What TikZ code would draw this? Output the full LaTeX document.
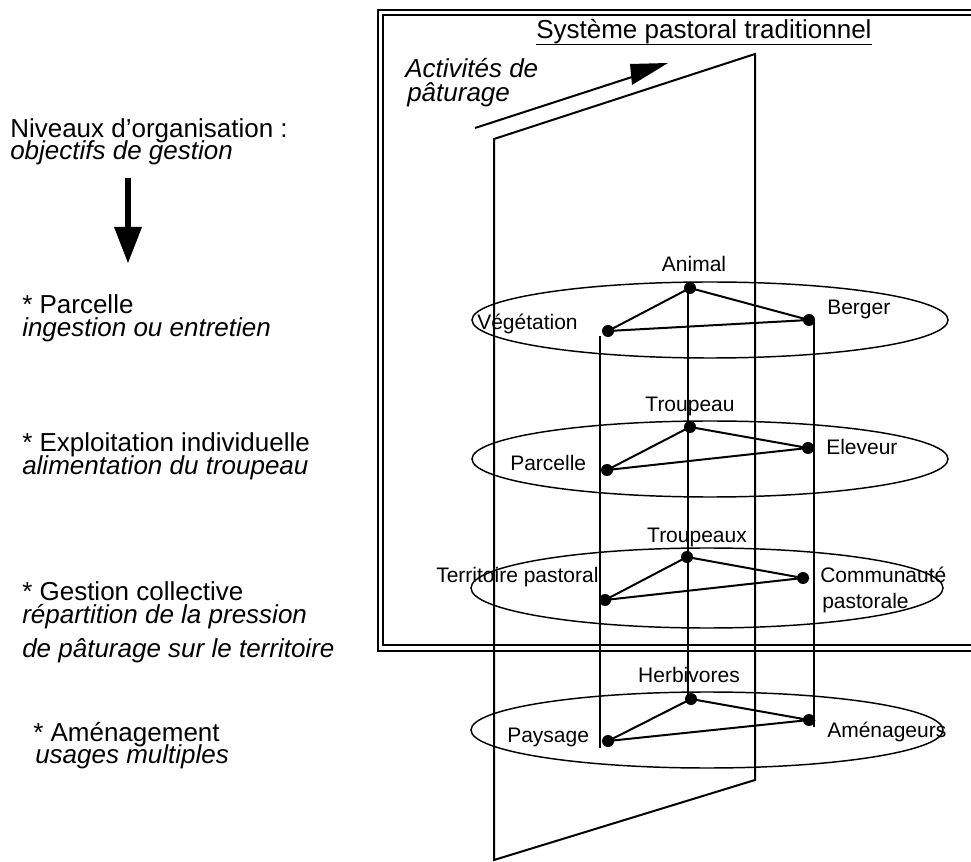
\documentclass[tikz,border=0pt]{standalone}
\usepackage{fontspec}
\setmainfont{Liberation Sans}
\begin{document}
\begin{tikzpicture}[x=0.75pt,y=-0.75pt,
  lbl/.style={inner sep=0pt, font=\fontsize{15.75}{18}\selectfont},
  side/.style={inner sep=0pt, font=\fontsize{19.5}{22}\selectfont, anchor=base west},
  sideit/.style={side, font=\fontsize{19.5}{22}\selectfont\itshape},
  ln/.style={line width=1.5pt},
  ell/.style={line width=1.1pt},
  dot/.style={circle, fill=black, inner sep=0pt, minimum size=9pt},
]
\useasboundingbox (0,0) rectangle (971,862);

% double frame (open on the right, cut by the image edge)
\begin{scope}
\clip (0,0) rectangle (971,862);
\draw[line width=1.6pt] (1000,10) -- (378,10) -- (378,651) -- (1000,651);
\draw[line width=0.9pt] (1000,15) -- (383,15) -- (383,645) -- (1000,645);
\end{scope}

% title
\node[side] (title) at (536,38.5) {Système pastoral traditionnel};
\draw[line width=1pt] ([yshift=-4.5pt]title.base west) -- ([yshift=-4.5pt]title.base east);

% grazing activities arrow
\node[sideit] (act1) at (405,78) {Activités de};
\node[sideit] (act2) at (407,102) {pâturage};
\coordinate (a0) at (475,128);
\coordinate (a1) at (632,77);
\draw[ln] (a0) -- (a1);
\fill (630,64) -- (668,63) -- (632,85) -- cycle;

% plane
\coordinate (pTL) at (494,139);
\coordinate (pTR) at (755,54);
\coordinate (pBR) at (755,780);
\coordinate (pBL) at (494,860);
\draw[ln, line join=miter] (pTL) -- (pTR) -- (pBR) -- (pBL) -- cycle;

% ellipses
\draw[ell] (710,320) ellipse [x radius=238, y radius=38];
\draw[ell] (710,459) ellipse [x radius=238, y radius=38];
\draw[ell] (707,588) ellipse [x radius=236, y radius=40];
\draw[ell] (707,730) ellipse [x radius=236, y radius=38];

% dots
\node[dot] (t1) at (690,288) {};
\node[dot] (l1) at (608,331) {};
\node[dot] (r1) at (809,320) {};
\node[dot] (t2) at (690,427) {};
\node[dot] (l2) at (607,470) {};
\node[dot] (r2) at (808,448) {};
\node[dot] (t3) at (687,557) {};
\node[dot] (l3) at (605,600) {};
\node[dot] (r3) at (803,578) {};
\node[dot] (t4) at (691,699) {};
\node[dot] (l4) at (608,741) {};
\node[dot] (r4) at (809,720) {};

% triangles
\foreach \i in {1,2,3,4}{
  \draw[ln] (t\i.center) -- (l\i.center) -- (r\i.center) -- cycle;
}

% vertical links
\coordinate (vl1) at (600,336); \coordinate (vl4) at (600,748);
\coordinate (vm1) at (688,288); \coordinate (vm4) at (688,700);
\coordinate (vr1) at (814,322); \coordinate (vr4) at (814,727);
\draw[ln] (vl1) -- (vl4);
\draw[ln] (vm1) -- (vm4);
\draw[ln] (vr1) -- (vr4);

% level labels
\node[lbl, anchor=base] (nAnimal) at (694,272) {Animal};
\node[lbl, anchor=base west] (nVeg) at (477,330) {Végétation};
\node[lbl, anchor=base west] (nBerger) at (827,315) {Berger};

\node[lbl, anchor=base] (nTroupeau) at (690,412) {Troupeau};
\node[lbl, anchor=base west] (nParcelle) at (510,471) {Parcelle};
\node[lbl, anchor=base west] (nEleveur) at (826,455) {Eleveur};

\node[lbl, anchor=base] (nTroupeaux) at (697,542) {Troupeaux};
\node[lbl, anchor=base west] (nTerr) at (436,582) {Territoire pastoral};
\node[lbl, anchor=base west] (nComm) at (820,582) {Communauté};
\node[lbl, anchor=base west] (nComm2) at (822,608) {pastorale};

\node[lbl, anchor=base] (nHerb) at (689,682) {Herbivores};
\node[lbl, anchor=base west] (nPays) at (507,742) {Paysage};
\node[lbl, anchor=base west] (nAmen) at (827,737) {Aménageurs};

% left column
\node[side] (s0a) at (10,138) {Niveaux d'organisation :};
\node[sideit] (s0b) at (10,160) {objectifs de gestion};
\fill (125,178) rectangle (131,228);
\fill (114,227) -- (142,227) -- (128,263) -- cycle;

\node[side] (s1a) at (22,314) {* Parcelle};
\node[sideit] (s1b) at (22,337) {ingestion ou entretien};

\node[side] (s2a) at (22,452) {* Exploitation individuelle};
\node[sideit] (s2b) at (22,475) {alimentation du troupeau};

\node[side] (s3a) at (22,600) {* Gestion collective};
\node[sideit] (s3b) at (22,623) {répartition de la pression};
\node[sideit] (s3c) at (22,657) {de pâturage sur le territoire};

\node[side] (s4a) at (33,741) {* Aménagement};
\node[sideit] (s4b) at (35,763) {usages multiples};
\end{tikzpicture}
\end{document}
